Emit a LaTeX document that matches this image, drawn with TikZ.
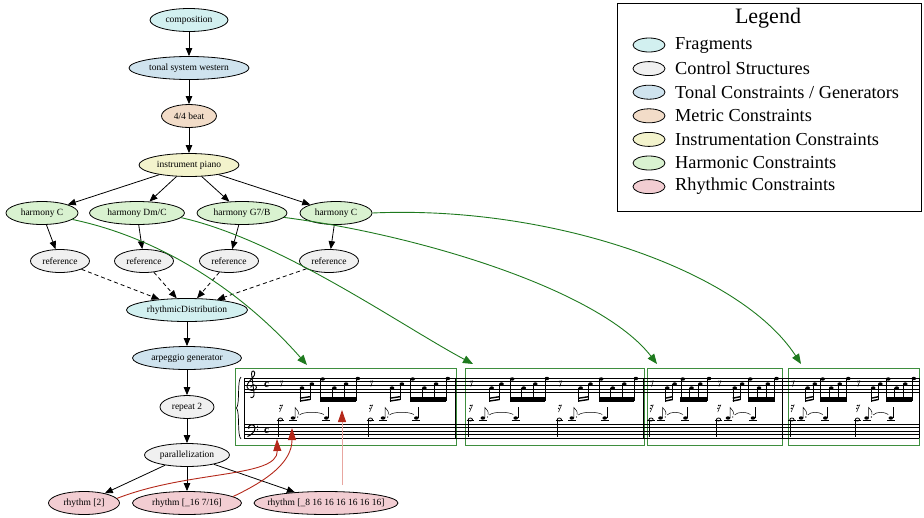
\documentclass[tikz,border=0pt]{standalone}
\usepackage{fontspec}
\setmainfont{Liberation Serif}
\usetikzlibrary{shapes.geometric,arrows.meta}

\definecolor{fragcol}{HTML}{D2F0F0}
\definecolor{ctrlcol}{HTML}{F0F0F0}
\definecolor{tonalcol}{HTML}{CFE3EE}
\definecolor{metriccol}{HTML}{F2DCC8}
\definecolor{instrcol}{HTML}{F3F3CC}
\definecolor{harmcol}{HTML}{D9F2D0}
\definecolor{rhythcol}{HTML}{F2CDD2}
\definecolor{linkgreen}{HTML}{1E7A1E}
\definecolor{boxgreen}{HTML}{3E8E3E}
\definecolor{linkred}{HTML}{B4281A}
\definecolor{palered}{HTML}{E8A6A0}

\tikzset{
  cnode/.style={draw, ellipse, line width=0.8pt, inner xsep=-25pt, inner ysep=0pt,
    minimum height=23pt, font=\fontsize{9.5}{11}\selectfont},
  arr/.style={-{Triangle[length=8pt,width=6.5pt]}, line width=0.8pt},
  dashedarr/.style={arr, dash pattern=on 4pt off 3pt},
  hlink/.style={-{Triangle[length=10pt,width=8pt]}, line width=0.9pt, linkgreen},
  rlink/.style={-{Triangle[length=12pt,width=8pt]}, line width=0.9pt, linkred},
  legmark/.style={draw, ellipse, line width=0.8pt, minimum width=32pt, minimum height=14pt, inner sep=0pt},
  legtext/.style={anchor=west, inner sep=0pt, font=\fontsize{18.3}{21}\selectfont},
  mbox/.style={draw=boxgreen, line width=1pt, inner sep=0pt},
}

\newcommand{\halfbar}[2]{%
  \pgfmathsetmacro{\xr}{#1+0.06*#2}%
  \pgfmathsetmacro{\xs}{#1+0.30*#2}%
  \pgfmathsetmacro{\xt}{#1+0.41*#2}%
  \pgfmathsetmacro{\xd}{#1+0.20*#2}%
  \pgfmathsetmacro{\xq}{#1+0.57*#2}%
  \fill (\xr,381.5) circle (0.9pt);
  \draw[line width=0.5pt] (\xr,381.5) -- ({\xr+2.3},380.8) -- ({\xr+0.4},386.5);
  \fill (\xs,388) circle [x radius=2.3pt, y radius=1.7pt] (\xt,384) circle [x radius=2.3pt, y radius=1.7pt];
  \draw[line width=0.5pt] ({\xs-2},388) -- ({\xs-2},401.5) ({\xt-2},384) -- ({\xt-2},400);
  \draw[line width=1.4pt] ({\xs-2},401) -- ({\xt-2},399.5) ({\xs-2},398.2) -- ({\xt-2},396.7);
  \foreach \fr/\yy in {0.53/379,0.66/388,0.79/384,0.92/378.5} {
    \fill ({#1+\fr*#2},\yy) circle [x radius=2.3pt, y radius=1.7pt];
    \draw[line width=0.5pt] ({#1+\fr*#2-2},\yy) -- ({#1+\fr*#2-2},401);
  }
  \fill ({#1+0.53*#2-2.3},396.5) rectangle ({#1+0.92*#2-1.7},401.5);
  \fill (\xr,405.5) circle (0.8pt) ({\xr-0.6},408.3) circle (0.8pt);
  \draw[line width=0.5pt] (\xr,405.5) -- ({\xr+2.2},405) -- ({\xr-0.8},412);
  \draw[line width=0.5pt] ({\xr-3.8},420.5) -- ({\xr+3.8},420.5) ({\xd-4},420.5) -- ({\xd+4},420.5) ({\xq-4},420.5) -- ({\xq+4},420.5);
  \draw[line width=0.8pt] (\xr,419.5) circle [x radius=2.1pt, y radius=1.5pt];
  \draw[line width=0.5pt] ({\xr-2},419.5) -- ({\xr-2},437);
  \fill (\xd,418) circle [x radius=2.3pt, y radius=1.7pt] (\xq,418) circle [x radius=2.3pt, y radius=1.7pt];
  \fill ({\xd+4.7},417) circle (0.7pt);
  \draw[line width=0.5pt] ({\xd+2.1},418) -- ({\xd+2.1},407.5) .. controls ({\xd+3.7},410) and ({\xd+6.2},411) .. ({\xd+5.2},414.5);
  \draw[line width=0.5pt] ({\xq+2.1},418) -- ({\xq+2.1},407);
  \draw[line width=0.5pt] ({\xd+6.5},415) .. controls ({\xd+10},411.5) and ({\xq-7},411.5) .. ({\xq-2.5},414.5);
}

\begin{document}
\begin{tikzpicture}[x=1pt, y=-1pt]
\useasboundingbox (0,0) rectangle (924,517);

\node[cnode, fill=fragcol, minimum width=78] (comp) at (189,20) {composition};
\node[cnode, fill=tonalcol, minimum width=120] (tonal) at (189,68) {tonal system western};
\node[cnode, fill=metriccol, minimum width=55] (beat) at (189,116) {4/4 beat};
\node[cnode, fill=instrcol, minimum width=100] (piano) at (189,165) {instrument piano};
\node[cnode, fill=harmcol, minimum width=72] (harmA) at (42,213) {harmony C};
\node[cnode, fill=harmcol, minimum width=95] (harmB) at (137,213) {harmony Dm/C};
\node[cnode, fill=harmcol, minimum width=90] (harmC) at (242,213) {harmony G7/B};
\node[cnode, fill=harmcol, minimum width=72] (harmD) at (336,213) {harmony C};
\node[cnode, fill=ctrlcol, minimum width=59] (refA) at (60,261) {reference};
\node[cnode, fill=ctrlcol, minimum width=59] (refB) at (144,261) {reference};
\node[cnode, fill=ctrlcol, minimum width=59] (refC) at (229,261) {reference};
\node[cnode, fill=ctrlcol, minimum width=59] (refD) at (329,261) {reference};
\node[cnode, fill=fragcol, minimum width=121] (distr) at (187,310) {rhythmicDistribution};
\node[cnode, fill=tonalcol, minimum width=109] (arpeg) at (187,358) {arpeggio generator};
\node[cnode, fill=ctrlcol, minimum width=54] (rep) at (187,407) {repeat 2};
\node[cnode, fill=ctrlcol, minimum width=85] (par) at (187,455) {parallelization};
\node[cnode, fill=rhythcol, minimum width=71] (rhyA) at (84,503) {rhythm [2]};
\node[cnode, fill=rhythcol, minimum width=109] (rhyB) at (187,503) {rhythm [\_16 7/16]};
\node[cnode, fill=rhythcol, minimum width=144] (rhyC) at (326,503) {rhythm [\_8 16 16 16 16 16 16]};

\draw[arr] (comp) -- (tonal);
\draw[arr] (tonal) -- (beat);
\draw[arr] (beat) -- (piano);
\foreach \h in {harmA,harmB,harmC,harmD} \draw[arr] (piano) -- (\h);
\draw[arr] (harmA) -- (refA);
\draw[arr] (harmB) -- (refB);
\draw[arr] (harmC) -- (refC);
\draw[arr] (harmD) -- (refD);
\foreach \r in {refA,refB,refC,refD} \draw[dashedarr] (\r) -- (distr);
\draw[arr] (distr) -- (arpeg);
\draw[arr] (arpeg) -- (rep);
\draw[arr] (rep) -- (par);
\foreach \r in {rhyA,rhyB,rhyC} \draw[arr] (par) -- (\r);

\node[mbox, minimum width=221, minimum height=77] (barA) at (345.5,406.5) {};
\node[mbox, minimum width=179, minimum height=77] (barB) at (554.5,406.5) {};
\node[mbox, minimum width=135, minimum height=77] (barC) at (714.5,406.5) {};
\node[mbox, minimum width=131, minimum height=77] (barD) at (853.5,406.5) {};

\foreach \k in {0,...,4} {
  \draw[line width=0.6pt] (244,{378+3.6*\k}) -- (919,{378+3.6*\k});
  \draw[line width=0.6pt] (244,{424+3.5*\k}) -- (919,{424+3.5*\k});
}
\foreach \bx in {244,455,643,782,919} \draw[line width=0.6pt] (\bx,378) -- (\bx,438);
\draw[line width=0.7pt] (241,377) .. controls (237,380) and (240,404) .. (236.5,408) .. controls (240,412) and (237,436) .. (241,439);
\draw[line width=0.9pt] (250.5,397) .. controls (252,399) and (254.7,396.5) .. (254,393) -- (251.5,373.5) .. controls (251.3,369.5) and (256,370.5) .. (254.5,375) .. controls (253,379) and (246.5,382) .. (247,387) .. controls (247.5,391.5) and (256.5,391.5) .. (256.5,387.5) .. controls (256.5,384) and (251,384) .. (250.7,387.5);
\draw[line width=1pt] (248.5,427.5) .. controls (248.5,424) and (255,423.5) .. (255,428) .. controls (255,432) and (251,435) .. (247.5,436.5);
\fill (248.7,427.5) circle (1.3pt) (257.5,426.2) circle (0.7pt) (257.5,429.7) circle (0.7pt);
\node[font=\fontsize{11}{11}\selectfont\bfseries, inner sep=0pt] (timeA) at (266.5,384.5) {c};
\node[font=\fontsize{11}{11}\selectfont\bfseries, inner sep=0pt] (timeB) at (266.5,430.5) {c};
\halfbar{275}{90}
\halfbar{365}{90}
\halfbar{465}{89}
\halfbar{554}{89}
\halfbar{647}{67.5}
\halfbar{714.5}{67.5}
\halfbar{788}{65.5}
\halfbar{853.5}{65.5}

\coordinate (tipA) at (307,365);
\coordinate (tipB) at (473,364);
\coordinate (tipC) at (657,364);
\coordinate (tipD) at (801,364);
\draw[hlink] (harmA.-12) .. controls (170,240) and (250,300) .. (tipA);
\draw[hlink] (harmB.-6) .. controls (280,240) and (400,325) .. (tipB);
\draw[hlink] (harmC.-6) .. controls (420,235) and (600,290) .. (tipC);
\draw[hlink] (harmD.east) .. controls (550,205) and (740,270) .. (tipD);

\coordinate (hitA) at (277,439);
\coordinate (hitB) at (292,428);
\coordinate (hitC) at (342,410);
\draw[rlink] (rhyA.8) .. controls (190,470) and (278,478) .. (hitA);
\draw[rlink] (rhyB.8) .. controls (268,480) and (292,462) .. (hitB);
\draw[palered, line width=0.9pt, -{Triangle[length=12pt,width=8pt,color=linkred]}, shorten <=6pt] (rhyC.north -| hitC) -- (hitC);

\node[draw, line width=0.8pt, minimum width=304, minimum height=208, inner sep=0pt] (legend) at (769,107) {};
\node[font=\fontsize{22}{25}\selectfont, inner sep=0pt] (legtitle) at (768,18) {Legend};
\foreach \c/\t [count=\i] in {fragcol/Fragments, ctrlcol/Control Structures, tonalcol/{Tonal Constraints / Generators}, metriccol/Metric Constraints, instrcol/Instrumentation Constraints, harmcol/Harmonic Constraints, rhythcol/Rhythmic Constraints} {
  \node[legmark, fill=\c] (mark\i) at (649,{45+23.6*(\i-1)}) {};
  \node[legtext] (text\i) at (675,{45+23.6*(\i-1)}) {\t};
}
\end{tikzpicture}
\end{document}
